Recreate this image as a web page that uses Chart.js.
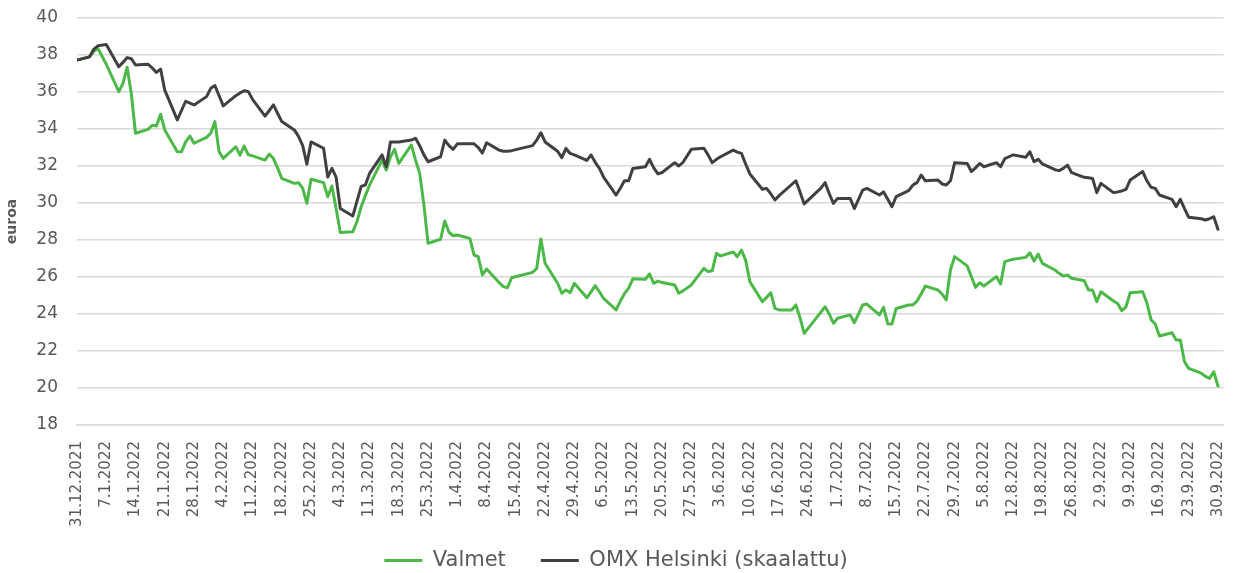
<!DOCTYPE html>
<html>
<head>
<meta charset="utf-8">
<script src="https://cdn.jsdelivr.net/npm/chart.js@4.4.1/dist/chart.umd.min.js"></script>
<style>
  html, body { margin: 0; padding: 0; background: #ffffff; }
  #wrap { width: 1244px; height: 573px; }
</style>
</head>
<body>
<div id="wrap"><canvas id="c" width="1244" height="573"></canvas></div>
<script>
// Calendar: 31.12.2021 .. 30.9.2022, values are for trading days (Mon-Fri), null = exchange holiday
const startYear = 2021, startMonth = 11, startDay = 31;
const calendarDays = 274;

const tickLabels = ["31.12.2021","7.1.2022","14.1.2022","21.1.2022","28.1.2022","4.2.2022","11.2.2022","18.2.2022","25.2.2022","4.3.2022","11.3.2022","18.3.2022","25.3.2022","1.4.2022","8.4.2022","15.4.2022","22.4.2022","29.4.2022","6.5.2022","13.5.2022","20.5.2022","27.5.2022","3.6.2022","10.6.2022","17.6.2022","24.6.2022","1.7.2022","8.7.2022","15.7.2022","22.7.2022","29.7.2022","5.8.2022","12.8.2022","19.8.2022","26.8.2022","2.9.2022","9.9.2022","16.9.2022","23.9.2022","30.9.2022"];

const yTicks = { min: 18, max: 40, step: 2 };

// Valmet share price, euros (first value 31.12.2021, then Mon..Fri per week)
const valmet = [37.73,
  37.9, 38.2, 38.36, null, 37.5,
  36.02, 36.47, 37.34, 35.9, 33.77,
  33.98, 34.2, 34.16, 34.8, 33.95,
  32.77, 32.77, 33.3, 33.62, 33.23,
  33.55, 33.77, 34.4, 32.77, 32.41,
  33.04, 32.59, 33.08, 32.6, 32.55,
  32.32, 32.65, 32.4, 31.9, 31.33,
  31.06, 31.1, 30.79, 29.98, 31.28,
  31.1, 30.34, 30.92, 29.7, 28.4,
  28.45, 29.0, 29.8, 30.4, 30.97,
  32.32, 31.78, 32.5, 32.9, 32.14,
  33.14, 32.32, 31.6, 29.9, 27.82,
  28.04, 29.03, 28.42, 28.23, 28.27,
  28.09, 27.19, 27.1, 26.11, 26.43,
  25.7, 25.48, 25.42, 25.96, null,
  null, 26.25, 26.47, 28.05, 26.74,
  25.66, 25.12, 25.3, 25.15, 25.66,
  24.88, 25.2, 25.53, 25.2, 24.84,
  24.22, 24.7, 25.1, 25.4, 25.9,
  25.88, 26.16, 25.66, 25.78, 25.7,
  25.57, 25.12, 25.25, null, 25.57,
  26.47, 26.29, 26.34, 27.28, 27.14,
  27.35, 27.1, 27.46, 26.9, 25.75,
  24.66, 24.9, 25.15, 24.3, 24.22,
  24.22, 24.49, 23.8, 22.95, null,
  24.1, 24.39, 24.0, 23.5, 23.77,
  23.95, 23.53, 24.0, 24.49, 24.54,
  23.95, 24.36, 23.46, 23.46, 24.3,
  24.49, 24.49, 24.7, 25.1, 25.51,
  25.3, 25.08, 24.76, 26.38, 27.1,
  26.6, 26.02, 25.44, 25.69, 25.51,
  26.02, 25.62, 26.83, 26.9, 26.96,
  27.06, 27.31, 26.86, 27.24, 26.74,
  26.38, 26.2, 26.05, 26.11, 25.93,
  25.8, 25.3, 25.3, 24.66, 25.2,
  24.7, 24.57, 24.18, 24.39, 25.15,
  25.2, 24.6, 23.68, 23.46, 22.81,
  22.99, 22.59, 22.59, 21.42, 21.06,
  20.8, 20.63, 20.52, 20.88, 20.11];

// OMX Helsinki, scaled to Valmet's starting value
const omx = [37.73,
  37.9, 38.3, 38.5, null, 38.57,
  37.37, 37.6, 37.86, 37.8, 37.46,
  37.5, 37.3, 37.06, 37.24, 36.1,
  34.49, 35.0, 35.5, 35.4, 35.3,
  35.75, 36.2, 36.35, 35.8, 35.25,
  35.8, 35.95, 36.07, 36.02, 35.6,
  34.7, 35.0, 35.3, 34.85, 34.4,
  33.95, 33.6, 33.1, 32.1, 33.3,
  32.96, 31.4, 31.87, 31.4, 29.7,
  29.3, 30.1, 30.9, 30.97, 31.6,
  32.6, 31.96, 33.3, 33.3, 33.3,
  33.4, 33.5, 33.1, 32.6, 32.23,
  32.5, 33.4, 33.1, 32.9, 33.2,
  33.2, 33.2, 33.0, 32.7, 33.26,
  32.86, 32.8, 32.8, 32.83, null,
  null, 33.1, 33.4, 33.8, 33.3,
  32.8, 32.45, 32.95, 32.68, 32.6,
  32.3, 32.6, 32.2, 31.87, 31.4,
  30.43, 30.8, 31.2, 31.2, 31.87,
  31.96, 32.36, 31.9, 31.57, 31.65,
  32.18, 32.0, 32.2, null, 32.9,
  32.96, 32.6, 32.18, 32.36, 32.5,
  32.86, 32.75, 32.68, 32.1, 31.57,
  30.74, 30.79, 30.5, 30.16, 30.4,
  31.0, 31.2, 30.6, 29.95, null,
  30.8, 31.1, 30.5, 29.98, 30.25,
  30.25, 29.7, 30.2, 30.7, 30.79,
  30.43, 30.6, 30.2, 29.8, 30.34,
  30.67, 30.97, 31.1, 31.51, 31.2,
  31.24, 31.03, 30.97, 31.2, 32.18,
  32.14, 31.7, 31.9, 32.14, 31.96,
  32.18, 31.96, 32.4, 32.5, 32.6,
  32.47, 32.77, 32.23, 32.36, 32.11,
  31.8, 31.75, 31.87, 32.05, 31.64,
  31.39, 31.36, 31.33, 30.56, 31.06,
  30.56, 30.6, 30.65, 30.74, 31.24,
  31.7, 31.2, 30.85, 30.79, 30.43,
  30.2, 29.8, 30.2, 29.7, 29.23,
  29.15, 29.08, 29.15, 29.26, 28.58];

const seriesNames = ["Valmet", "OMX Helsinki (skaalattu)"];
const seriesColors = ["#4cb848", "#404040"];

// trading days (weekdays) as day offsets from 31.12.2021
const tradingDays = [];
for (let d = 0; d < calendarDays; d++) {
  const wd = new Date(startYear, startMonth, startDay + d).getDay();
  if (wd !== 0 && wd !== 6) tradingDays.push(d);
}
const tickDays = tickLabels.map((_, i) => i * 7);

const FONT = "'DejaVu Sans', Verdana, sans-serif";
const TXT = "#595959";
const GRID = "#d9d9d9";

function toPoints(values) {
  return tradingDays.map((d, i) => ({ x: d, y: values[i] }));
}

new Chart(document.getElementById('c'), {
  type: 'line',
  data: {
    datasets: [
      { label: seriesNames[0], data: toPoints(valmet), borderColor: seriesColors[0], backgroundColor: seriesColors[0],
        borderWidth: 3, pointRadius: 0, tension: 0, spanGaps: true, order: 1,
        borderJoinStyle: 'round', borderCapStyle: 'round' },
      { label: seriesNames[1], data: toPoints(omx), borderColor: seriesColors[1], backgroundColor: seriesColors[1],
        borderWidth: 3, pointRadius: 0, tension: 0, spanGaps: true, order: 0,
        borderJoinStyle: 'round', borderCapStyle: 'round' }
    ]
  },
  options: {
    responsive: false,
    animation: false,
    layout: { padding: { left: 0, right: 12, top: 18, bottom: -8 } },
    plugins: {
      tooltip: { enabled: false },
      legend: {
        position: 'bottom',
        labels: {
          color: TXT,
          font: { family: FONT, size: 21 },
          boxWidth: 38, boxHeight: 3, padding: 35,
          sort: (a, b) => a.datasetIndex - b.datasetIndex,
          generateLabels(chart) {
            const items = Chart.defaults.plugins.legend.labels.generateLabels(chart);
            items.forEach(it => { it.lineWidth = 0; it.fillStyle = it.strokeStyle; });
            return items;
          }
        }
      }
    },
    scales: {
      x: {
        type: 'linear',
        min: 0,
        max: 274.4,
        afterBuildTicks(scale) { scale.ticks = tickDays.map(v => ({ value: v })); },
        afterFit(scale) {
          scale.height = 90;
          // let the long rotated date labels run past the axis box instead of being clipped
          scale._computeLabelArea = () => undefined;
        },
        grid: { display: false },
        border: { display: true, color: GRID, width: 1.5 },
        ticks: {
          autoSkip: false, minRotation: 90, maxRotation: 90, padding: 8,
          color: TXT, font: { family: FONT, size: 15 },
          callback: (v, i) => tickLabels[i]
        }
      },
      y: {
        min: yTicks.min, max: yTicks.max,
        afterFit(scale) { scale.width = 77; },
        grid: { color: GRID, lineWidth: 1.5, drawTicks: true, tickLength: 19, tickColor: 'rgba(0,0,0,0)' },
        border: { display: false },
        ticks: { stepSize: yTicks.step, padding: 0, color: TXT, font: { family: FONT, size: 17 } },
        title: { display: true, text: 'euroa', color: TXT, font: { family: FONT, size: 14, weight: 'bold' }, padding: { top: 4, bottom: 0 } }
      }
    }
  }
});
</script>
</body>
</html>
